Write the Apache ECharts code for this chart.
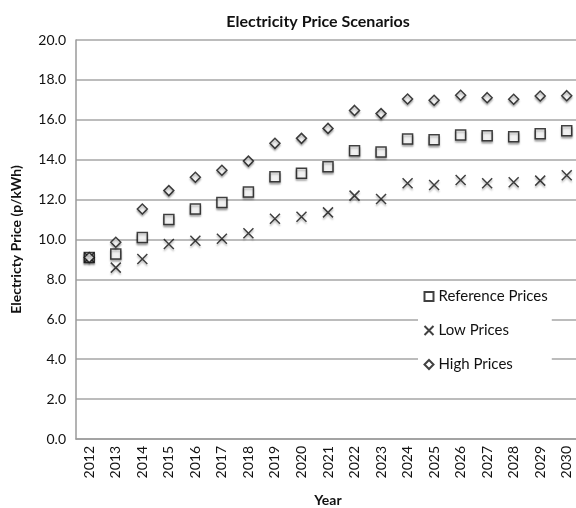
<!DOCTYPE html>
<html>
<head>
<meta charset="utf-8">
<script src="https://cdn.jsdelivr.net/npm/echarts@6/dist/echarts.min.js"></script>
<style>
  html, body { margin: 0; padding: 0; background: #fff; }
  #chart { width: 576px; height: 508px; }
</style>
</head>
<body>
<div id="chart"></div>
<script>
// data
const years = ['2012', '2013', '2014', '2015', '2016', '2017', '2018', '2019', '2020', '2021',
  '2022', '2023', '2024', '2025', '2026', '2027', '2028', '2029', '2030']
const referencePrices = [9.1, 9.27, 10.1, 11.0, 11.53, 11.85, 12.38, 13.15, 13.32, 13.65,
  14.45, 14.39, 15.04, 15.0, 15.24, 15.2, 15.15, 15.3, 15.45]
const lowPrices = [9.1, 8.59, 9.02, 9.77, 9.94, 10.04, 10.31, 11.04, 11.14, 11.36,
  12.2, 12.03, 12.82, 12.73, 12.98, 12.82, 12.87, 12.95, 13.22]
const highPrices = [9.1, 9.86, 11.53, 12.45, 13.12, 13.47, 13.93, 14.82, 15.07, 15.57,
  16.47, 16.31, 17.04, 16.98, 17.23, 17.11, 17.03, 17.19, 17.21]

const font = 'Lato, "Open Sans", sans-serif'
const crossPath = 'path://M0,0L10,10M10,0L0,10'

const markerStyle = {
  color: '#fff',
  borderColor: '#111',
  borderWidth: 1.5,
  shadowColor: 'rgba(0,0,0,0.35)',
  shadowBlur: 2,
  shadowOffsetY: 2
}

const chart = echarts.init(document.getElementById('chart'))

const option = {
  animation: false,
  title: {
    text: 'Electricity Price Scenarios',
    left: 313,
    textAlign: 'center',
    top: 9,
    textStyle: { fontFamily: font, fontSize: 16, fontWeight: 'bold', color: '#111' }
  },
  legend: {
    orient: 'vertical',
    left: 418,
    top: 285,
    padding: [4, 4, 4, 4],
    itemGap: 19,
    itemWidth: 9,
    itemHeight: 9,
    backgroundColor: '#fff',
    textStyle: { fontFamily: font, fontSize: 15, color: '#111', padding: [0, 0, 0, 0] },
    data: ['Reference Prices', 'Low Prices', 'High Prices']
  },
  grid: {
    left: 76,
    top: 40,
    bottom: 69,
    right: -4,
    outerBoundsMode: 'none',
    containLabel: false
  },
  xAxis: {
    type: 'category',
    data: years,
    boundaryGap: true,
    name: 'Year',
    nameLocation: 'middle',
    nameGap: 54,
    nameTextStyle: { fontFamily: font, fontSize: 14, fontWeight: 'bold', color: '#111' },
    axisLine: { lineStyle: { color: '#9a9a9a', width: 1.5 } },
    axisTick: { show: false },
    axisLabel: { rotate: 90, interval: 0, margin: 7, fontFamily: font, fontSize: 14, color: '#111' }
  },
  yAxis: {
    type: 'value',
    min: 0,
    max: 20,
    interval: 2,
    name: 'Electricty Price (p/kWh)',
    nameLocation: 'middle',
    nameGap: 53,
    nameTextStyle: { fontFamily: font, fontSize: 14, fontWeight: 'bold', color: '#111' },
    axisLine: { show: true, lineStyle: { color: '#9a9a9a', width: 1.5 } },
    axisTick: { show: false },
    splitLine: { lineStyle: { color: '#a6a6a6', width: 1.5 } },
    axisLabel: {
      margin: 10,
      fontFamily: font,
      fontSize: 14,
      color: '#111',
      formatter: v => v.toFixed(1)
    }
  },
  series: [
    {
      name: 'Reference Prices',
      type: 'scatter',
      symbol: 'rect',
      symbolSize: 10,
      itemStyle: markerStyle,
      data: referencePrices
    },
    {
      name: 'Low Prices',
      type: 'scatter',
      symbol: crossPath,
      symbolSize: 10,
      itemStyle: Object.assign({}, markerStyle, { color: 'none' }),
      data: lowPrices
    },
    {
      name: 'High Prices',
      type: 'scatter',
      symbol: 'diamond',
      symbolSize: 10,
      itemStyle: markerStyle,
      data: highPrices
    }
  ]
}

chart.setOption(option)
</script>
</body>
</html>
